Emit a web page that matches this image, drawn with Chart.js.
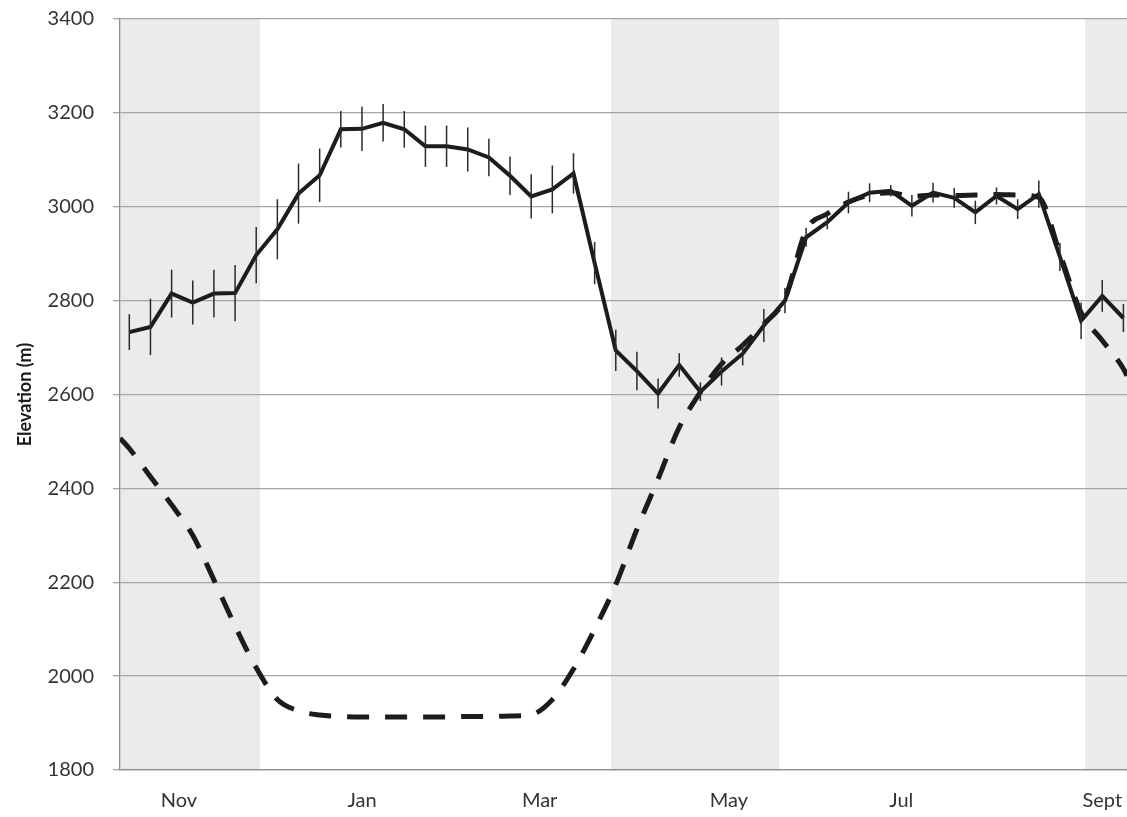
<!DOCTYPE html>
<html>
<head>
<meta charset="utf-8">
<script src="https://cdn.jsdelivr.net/npm/chart.js@4"></script>
<style>
  body { margin: 0; background: #fff; }
  #wrap { width: 1127px; height: 817px; }
</style>
</head>
<body>
<div id="wrap"><canvas id="myChart" width="1127" height="817"></canvas></div>
<script>
// weekly observations, week 0 = first sample in early Nov
const weeks = [0,1,2,3,4,5,6,7,8,9,10,11,12,13,14,15,16,17,18,19,20,21,22,23,
  24,25,26,27,28,29,30,31,32,33,34,35,36,37,38,39,40,41,42,43,44,45,46,47];

const elevation = [2733,2744,2815,2796,2815,2816,2897,2952,3028,3067,3165,3166,
  3179,3165,3129,3129,3122,3105,3066,3022,3037,3071,2880,2694,
  2650,2602,2663,2606,2649,2687,2747,2800,2935,2967,3009,3030,
  3034,3002,3030,3019,2988,3023,2995,3027,2893,2757,2810,2763];

const elevationErr = [38,60,51,47,51,60,60,64,64,57,39,47,
  40,39,44,44,47,40,41,47,51,43,45,44,
  41,32,25,20,30,25,35,27,20,15,23,20,
  12,23,21,21,25,18,21,29,30,39,34,30];

// dashed curve, with one extra point at each edge of the axis
const modelWeeks = [-0.44,0,1,2,3,4,5,6,7,8,9,10,11,12,13,14,15,16,17,18,19,20,21,22,23,
  24,25,26,27,28,29,30,31,32,33,34,35,36,37,38,39,40,41,42,43,44,45,46,47,47.17];
const modelElev = [2507,2485,2425,2365,2300,2205,2107,2018,1950,1926,1917,1914,1913,1913,
  1913,1913,1913,1914,1914,1915,1918,1950,2015,2100,2195,
  2313,2420,2530,2605,2665,2705,2750,2805,2950,2985,3010,3025,
  3030,3022,3025,3024,3025,3026,3025,3020,2900,2775,2715,2655,2640];

const monthLabels = ['Nov','Jan','Mar','May','Jul','Sept'];
const monthWeeks = [2.35, 11.0, 19.4, 28.35, 36.5, 46.0];

// shaded periods (in weeks)
const bandStart = [-0.44, 22.78, 45.19];
const bandEnd = [6.18, 30.72, 47.17];

const xMin = -0.44, xMax = 47.17;

const bandsPlugin = {
  id: 'bands',
  beforeDraw(chart) {
    const {ctx, chartArea, scales} = chart;
    ctx.save();
    ctx.fillStyle = '#ebebeb';
    for (let i = 0; i < bandStart.length; i++) {
      const a = scales.x.getPixelForValue(bandStart[i]);
      const b = scales.x.getPixelForValue(bandEnd[i]);
      ctx.fillRect(a, chartArea.top, b - a, chartArea.bottom - chartArea.top);
    }
    ctx.restore();
  }
};

const errorBars = {
  id: 'errorBars',
  afterDatasetsDraw(chart) {
    const {ctx, scales} = chart;
    ctx.save();
    ctx.strokeStyle = '#2a2a2a';
    ctx.lineWidth = 1.5;
    for (let i = 0; i < weeks.length; i++) {
      const x = scales.x.getPixelForValue(weeks[i]);
      const y1 = scales.y.getPixelForValue(elevation[i] - elevationErr[i]);
      const y2 = scales.y.getPixelForValue(elevation[i] + elevationErr[i]);
      ctx.beginPath();
      ctx.moveTo(x, y1);
      ctx.lineTo(x, y2);
      ctx.stroke();
    }
    ctx.restore();
  }
};

const config = {
  type: 'line',
  data: {
    datasets: [{
      label: 'Observed',
      data: weeks.map((w, i) => ({x: w, y: elevation[i]})),
      borderColor: '#1c1c1c',
      borderWidth: 4,
      pointRadius: 0,
      tension: 0,
      fill: false
    }, {
      label: 'Model',
      data: modelWeeks.map((w, i) => ({x: w, y: modelElev[i]})),
      borderColor: '#1c1c1c',
      borderWidth: 5,
      borderDash: [22, 16],
      borderCapStyle: 'butt',
      cubicInterpolationMode: 'monotone',
      pointRadius: 0,
      fill: false
    }]
  },
  options: {
    responsive: false,
    animation: false,
    layout: { padding: { top: 19, right: 0, left: 0, bottom: 0 } },
    plugins: { legend: { display: false }, tooltip: { enabled: false } },
    scales: {
      x: {
        type: 'linear',
        min: xMin,
        max: xMax,
        afterBuildTicks: scale => { scale.ticks = monthWeeks.map(v => ({value: v})); },
        afterFit: scale => { scale.height = 47; scale.paddingLeft = 0; scale.paddingRight = 0; },
        ticks: {
          autoSkip: false,
          maxRotation: 0,
          padding: 19,
          color: '#333333',
          font: { family: 'Lato', size: 20 },
          callback: (v, i) => monthLabels[i]
        },
        grid: { display: false, drawTicks: false },
        border: { display: true, color: '#8c8c8c', width: 1.3 }
      },
      y: {
        min: 1800,
        max: 3400,
        afterFit: scale => { scale.width = 120; scale.paddingTop = 0; scale.paddingBottom = 0; },
        ticks: {
          stepSize: 200,
          padding: 19,
          color: '#333333',
          font: { family: 'Lato', size: 20 },
          callback: v => String(v)
        },
        grid: { color: '#a6a6a6', lineWidth: 1.3, tickLength: 7 },
        border: { display: true, color: '#8c8c8c', width: 1.3 },
        title: {
          display: true,
          text: 'Elevation (m)',
          color: '#1a1a1a',
          padding: { top: 14, bottom: 0 },
          font: { family: 'Lato', size: 18, weight: 'bold' }
        }
      }
    }
  },
  plugins: [bandsPlugin, errorBars]
};

let ctx = document.getElementById('myChart').getContext('2d');
let myChart = new Chart(ctx, config);
</script>
</body>
</html>
